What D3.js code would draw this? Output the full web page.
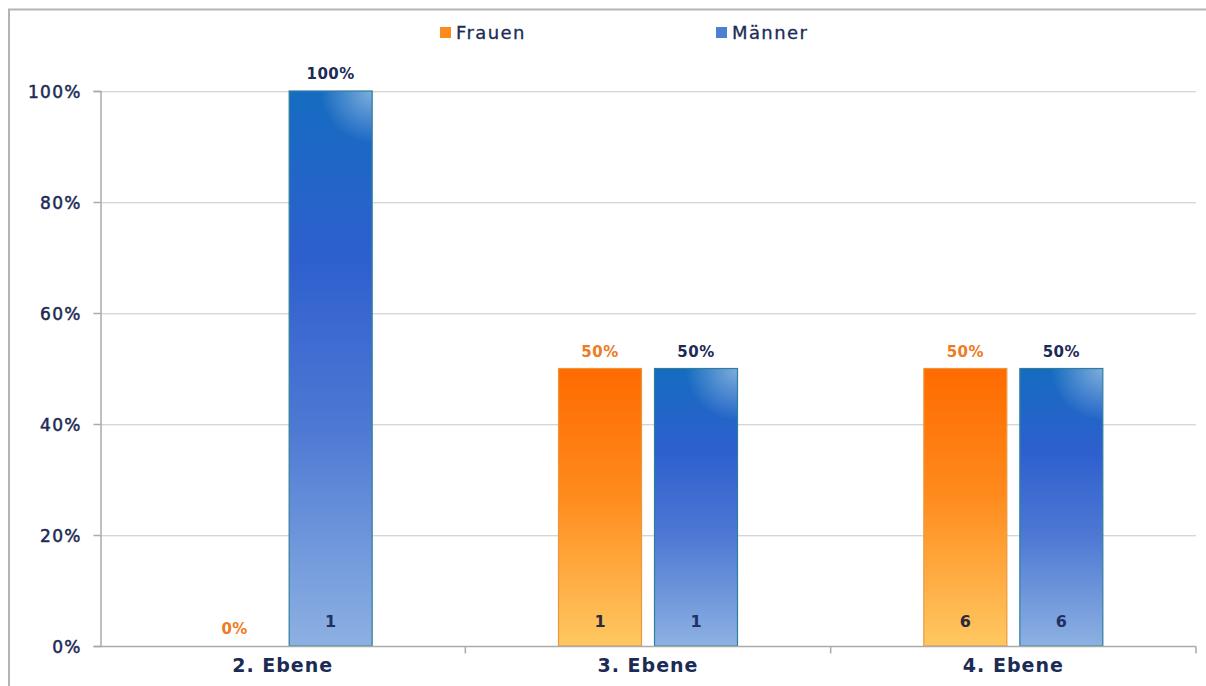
<!DOCTYPE html>
<html>
<head>
<meta charset="utf-8">
<script src="https://cdn.jsdelivr.net/npm/d3@7"></script>
<style>
  html, body { margin: 0; padding: 0; background: #ffffff; }
  svg { display: block; }
</style>
</head>
<body>
<svg id="chart" width="1206" height="686"></svg>
<script>
// Ebenen and the share of women / men on each level
const categories = ["2. Ebene", "3. Ebene", "4. Ebene"];
const seriesNames = ["Frauen", "Männer"];
const frauenShare = [0, 0.5, 0.5];
const maennerShare = [1, 0.5, 0.5];
const frauenCount = [0, 1, 6];
const maennerCount = [1, 1, 6];
const yTicks = [0, 0.2, 0.4, 0.6, 0.8, 1.0];

const svg = d3.select("#chart");
const margin = { left: 100, top: 91 };
const plotRight = 1196, plotBottom = 646;

const navy = "#1b2b55";
const orangeText = "#ee7a22";

// outer frame (left and top edge of the chart box)
svg.append("path")
  .attr("d", "M9,686 V9.5 H1206")
  .attr("fill", "none")
  .attr("stroke", "#b4b4b4")
  .attr("stroke-width", 2);

const x0 = d3.scaleBand().domain(categories).range([margin.left, plotRight]);
const barW = 83, barGap = 13;
const groupW = barW * 2 + barGap;
const x1 = d3.scaleBand().domain(seriesNames)
  .range([0, groupW]).paddingInner(barGap / (barW + barGap));
const groupOffset = (x0.bandwidth() - groupW) / 2;
const y = d3.scaleLinear().domain([0, 1]).range([plotBottom, margin.top]);

const defs = svg.append("defs");
const gF = defs.append("linearGradient").attr("id", "gradF")
  .attr("x1", 0).attr("y1", 0).attr("x2", 0).attr("y2", 1);
gF.append("stop").attr("offset", "0%").attr("stop-color", "#ff6a00");
gF.append("stop").attr("offset", "45%").attr("stop-color", "#ff8a1c");
gF.append("stop").attr("offset", "100%").attr("stop-color", "#ffc862");

const gM = defs.append("linearGradient").attr("id", "gradM")
  .attr("x1", 0).attr("y1", 0).attr("x2", 0).attr("y2", 1);
gM.append("stop").attr("offset", "0%").attr("stop-color", "#156cc0");
gM.append("stop").attr("offset", "30%").attr("stop-color", "#2e5fce");
gM.append("stop").attr("offset", "60%").attr("stop-color", "#4d78d3");
gM.append("stop").attr("offset", "100%").attr("stop-color", "#8db1e2");

// gridlines
const grid = svg.append("g");
grid.selectAll("line.g").data(yTicks.filter(d => d > 0)).join("line")
  .attr("class", "g")
  .attr("x1", margin.left).attr("x2", plotRight)
  .attr("y1", d => Math.round(y(d)) + 0.5).attr("y2", d => Math.round(y(d)) + 0.5)
  .attr("stroke", "#d6d6d6").attr("stroke-width", 1);
grid.selectAll("line.s").data(yTicks.filter(d => d > 0)).join("line")
  .attr("class", "s")
  .attr("x1", margin.left).attr("x2", plotRight)
  .attr("y1", d => Math.round(y(d)) + 1.5).attr("y2", d => Math.round(y(d)) + 1.5)
  .attr("stroke", "#f0f0f0").attr("stroke-width", 1);

// y axis
const yAxis = svg.append("g").attr("transform", `translate(${margin.left + 0.5},0)`)
  .call(d3.axisLeft(y).tickValues(yTicks).tickFormat(d3.format(".0%")).tickSize(7).tickPadding(12));
yAxis.select(".domain").attr("stroke", "#aaaaaa").attr("stroke-width", 1.5);
yAxis.selectAll(".tick line").attr("stroke", "#aaaaaa").attr("stroke-width", 1.5);
yAxis.selectAll(".tick text")
  .attr("font-family", "DejaVu Sans, Verdana, sans-serif")
  .attr("font-size", 17).attr("letter-spacing", "1.2px")
  .attr("fill", navy).attr("stroke", navy).attr("stroke-width", 0.5)
  .attr("dy", "0.36em");

// bars
const rows = categories.map((c, i) => [
  { cat: c, s: "Frauen", v: frauenShare[i], n: frauenCount[i], i },
  { cat: c, s: "Männer", v: maennerShare[i], n: maennerCount[i], i }
]).flat();

const bx = d => x0(d.cat) + groupOffset + x1(d.s);

const bars = svg.append("g");
bars.selectAll("rect").data(rows.filter(d => d.v > 0)).join("rect")
  .attr("x", d => bx(d))
  .attr("y", d => y(d.v))
  .attr("width", x1.bandwidth())
  .attr("height", d => y(0) - y(d.v))
  .attr("fill", d => d.s === "Frauen" ? "url(#gradF)" : "url(#gradM)")
  .attr("stroke", d => d.s === "Frauen" ? "#e9993c" : "#2f7f9c")
  .attr("stroke-width", 1.2);

// soft sheen in the top-right corner of the blue bars
rows.filter(d => d.s === "Männer" && d.v > 0).forEach((d, k) => {
  const rx = bx(d) + x1.bandwidth(), ry = y(d.v);
  const rg = defs.append("radialGradient").attr("id", "sheen" + k)
    .attr("gradientUnits", "userSpaceOnUse")
    .attr("cx", rx).attr("cy", ry).attr("r", 52);
  rg.append("stop").attr("offset", "0%").attr("stop-color", "#ffffff").attr("stop-opacity", 0.45);
  rg.append("stop").attr("offset", "100%").attr("stop-color", "#ffffff").attr("stop-opacity", 0);
  bars.append("rect")
    .attr("x", bx(d) + 0.6).attr("y", y(d.v) + 0.6)
    .attr("width", x1.bandwidth() - 1.2).attr("height", y(0) - y(d.v) - 1.2)
    .attr("fill", `url(#sheen${k})`);
});

// x axis
const xAxis = svg.append("g").attr("transform", `translate(0,${plotBottom + 0.5})`)
  .call(d3.axisBottom(x0).tickSize(0).tickPadding(12));
xAxis.select(".domain").remove();
xAxis.append("line").attr("x1", margin.left).attr("x2", plotRight)
  .attr("stroke", "#aaaaaa").attr("stroke-width", 1.5);
xAxis.selectAll("line.sep").data(categories).join("line")
  .attr("class", "sep")
  .attr("x1", d => x0(d) + x0.bandwidth()).attr("x2", d => x0(d) + x0.bandwidth())
  .attr("y1", 0).attr("y2", 7)
  .attr("stroke", "#aaaaaa").attr("stroke-width", 1.5);
xAxis.selectAll(".tick text")
  .attr("font-family", "DejaVu Sans, Verdana, sans-serif")
  .attr("font-size", 19).attr("font-weight", "bold").attr("letter-spacing", "1px")
  .attr("fill", navy).attr("dy", "0.71em");

// value labels above bars
const labels = svg.append("g")
  .attr("font-family", "DejaVu Sans, Verdana, sans-serif")
  .attr("font-size", 15).attr("font-weight", "bold")
  .attr("text-anchor", "middle");
labels.selectAll("text.pct").data(rows).join("text")
  .attr("class", "pct")
  .attr("x", d => bx(d) + x1.bandwidth() / 2)
  .attr("y", d => y(d.v) - 12)
  .attr("fill", d => d.s === "Frauen" ? orangeText : navy)
  .attr("letter-spacing", "0.5px")
  .text(d => d3.format(".0%")(d.v));

// head counts inside bars
labels.selectAll("text.cnt").data(rows.filter(d => d.n > 0)).join("text")
  .attr("class", "cnt")
  .attr("x", d => bx(d) + x1.bandwidth() / 2)
  .attr("y", plotBottom - 19)
  .attr("font-size", 16)
  .attr("fill", d => d.s === "Frauen" ? "#2a2a3a" : "#1f3166")
  .text(d => d.n);

// legend
const legend = svg.append("g")
  .attr("font-family", "DejaVu Sans, Verdana, sans-serif")
  .attr("font-size", 18).attr("fill", navy);
const legendItems = [
  { name: "Frauen", x: 440, fill: "#ff8a1c" },
  { name: "Männer", x: 716, fill: "#4f7fd0" }
];
legendItems.forEach(it => {
  legend.append("rect").attr("x", it.x).attr("y", 27).attr("width", 11).attr("height", 11)
    .attr("fill", it.fill);
  legend.append("text").attr("x", it.x + 16).attr("y", 39)
    .attr("letter-spacing", "1.4px").attr("stroke", navy).attr("stroke-width", 0.3)
    .text(it.name);
});
</script>
</body>
</html>
